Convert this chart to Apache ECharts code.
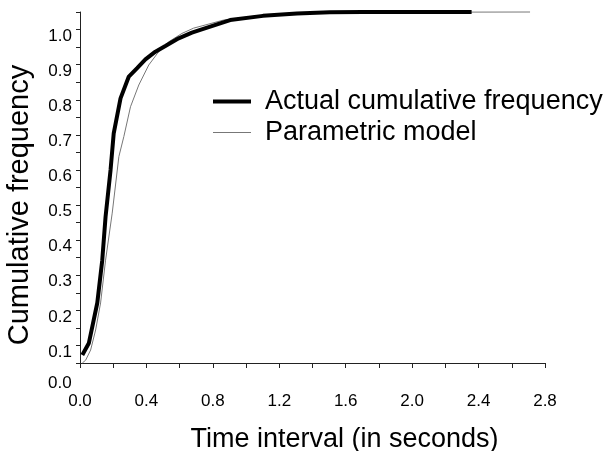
<!DOCTYPE html>
<html>
<head>
    <meta charset="UTF-8">
    <title>Cumulative frequency</title>
    <script src="https://cdn.jsdelivr.net/npm/echarts@6/dist/echarts.min.js"></script>
    <style>
        html, body { margin: 0; padding: 0; background: #fff; }
        #main { width: 609px; height: 451px; }
    </style>
</head>
<body>
<div id="main"></div>
<script type="text/javascript">
    // values
    var actualTime = [0.014, 0.053, 0.104, 0.134, 0.154, 0.184, 0.203, 0.244, 0.294, 0.344, 0.394,
        0.454, 0.514, 0.594, 0.674, 0.724, 0.904, 1.102, 1.306, 1.504, 1.702, 2.358];
    var actualFreq = [0.073, 0.106, 0.221, 0.343, 0.467, 0.600, 0.704, 0.804, 0.866, 0.890, 0.915,
        0.937, 0.953, 0.975, 0.991, 0.999, 1.027, 1.039, 1.046, 1.049, 1.050, 1.050];

    var modelTime = [0.014, 0.034, 0.064, 0.094, 0.124, 0.154, 0.194, 0.234, 0.264, 0.304, 0.354,
        0.414, 0.474, 0.534, 0.614, 0.684, 0.864, 1.10, 1.50, 2.71];
    var modelFreq = [0.050, 0.058, 0.087, 0.144, 0.221, 0.343, 0.477, 0.638, 0.695, 0.780, 0.842,
        0.899, 0.937, 0.965, 0.989, 1.004, 1.027, 1.041, 1.049, 1.050];

    var seriesNames = ['Actual cumulative frequency', 'Parametric model'];

    function pairs(xs, ys) {
        return xs.map(function (x, i) { return [x, ys[i]]; });
    }

    var font = 'Liberation Sans, Arial, sans-serif';
    var myChart = echarts.init(document.getElementById('main'));

    var option = {
        animation: false,
        grid: { left: 80, right: 64, top: 12, bottom: 88, outerBoundsMode: 'none', containLabel: false },
        legend: {
            orient: 'vertical',
            left: 211,
            top: 88,
            padding: 0,
            itemWidth: 38,
            itemHeight: 14,
            itemGap: 4,
            itemStyle: { opacity: 0 },
            textStyle: { fontFamily: font, fontSize: 27, color: '#000', padding: [0, 0, 0, 9] },
            data: [
                { name: seriesNames[0], lineStyle: { color: '#000', width: 4 } },
                { name: seriesNames[1], lineStyle: { color: '#777', width: 1 } }
            ]
        },
        xAxis: {
            type: 'value',
            min: 0,
            max: 2.8,
            interval: 0.2,
            name: 'Time interval (in seconds)',
            nameLocation: 'middle',
            nameGap: 63,
            nameTextStyle: { fontFamily: font, fontSize: 27, color: '#000', padding: [0, 0, 0, 64] },
            axisLine: { lineStyle: { color: '#222', width: 1 } },
            axisTick: { length: 5, lineStyle: { color: '#222' } },
            splitLine: { show: false },
            axisLabel: {
                margin: 30,
                fontFamily: font,
                fontSize: 17,
                color: '#000',
                formatter: function (v) {
                    return Math.round(v * 10) % 4 === 0 ? v.toFixed(1) : '';
                }
            }
        },
        yAxis: {
            type: 'value',
            min: 0.05,
            max: 1.05,
            interval: 0.05,
            name: 'Cumulative frequency',
            nameLocation: 'middle',
            nameGap: 46,
            nameTextStyle: { fontFamily: font, fontSize: 29, color: '#000', padding: [0, 35, 0, 0] },
            axisLine: { show: true, lineStyle: { color: '#222', width: 1 } },
            axisTick: { show: true, length: 4, lineStyle: { color: '#222' } },
            splitLine: { show: false },
            axisLabel: {
                margin: 8,
                fontFamily: font,
                fontSize: 17,
                color: '#000',
                verticalAlign: 'top',
                lineHeight: 13,
                formatter: function (v) {
                    var k = Math.round(v * 100);
                    return (k % 10 === 0 && k <= 100) ? (k / 100).toFixed(1) : '';
                }
            }
        },
        graphic: [{
            type: 'text',
            left: 48,
            top: 375,
            style: { text: '0.0', font: '17px ' + font, fill: '#000' }
        }],
        series: [
            {
                name: seriesNames[0],
                type: 'line',
                data: pairs(actualTime, actualFreq),
                showSymbol: false,
                symbol: 'none',
                clip: false,
                z: 3,
                lineStyle: { color: '#000', width: 4 },
                itemStyle: { color: '#000' }
            },
            {
                name: seriesNames[1],
                type: 'line',
                data: pairs(modelTime, modelFreq),
                showSymbol: false,
                symbol: 'none',
                clip: false,
                z: 2,
                lineStyle: { color: '#777', width: 1 },
                itemStyle: { color: '#777' }
            }
        ]
    };

    myChart.setOption(option);
</script>
</body>
</html>
